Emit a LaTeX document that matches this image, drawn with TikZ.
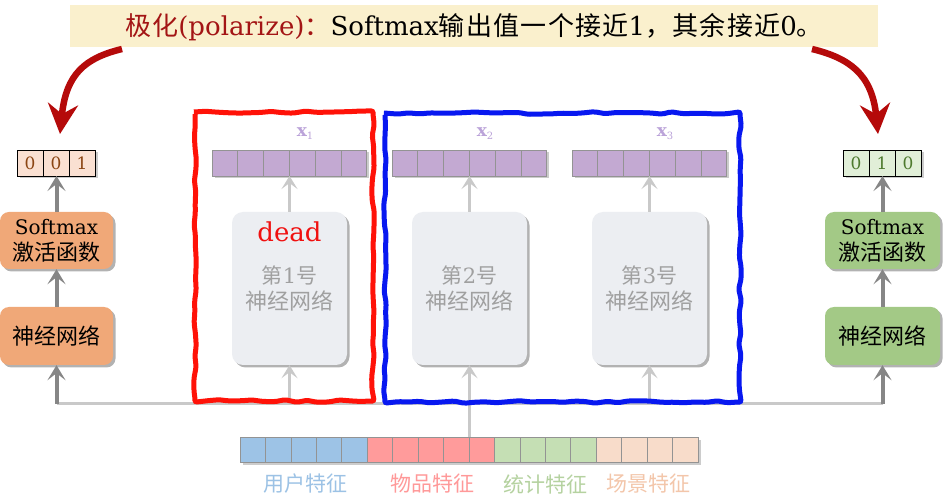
\documentclass[tikz,border=0pt]{standalone}
\usepackage{fontspec}
\setmainfont{DejaVu Serif}
\newfontfamily\cjk{Noto Sans CJK SC}
\newfontfamily\cjkw[LetterSpace=5]{Noto Sans CJK SC}
\usetikzlibrary{arrows.meta,shadows,decorations.pathmorphing}
\definecolor{bannerbg}{HTML}{FAF0CD}
\definecolor{polred}{HTML}{A31515}
\definecolor{bigred}{HTML}{B50A0A}
\definecolor{orangebox}{HTML}{F0A878}
\definecolor{greenbox}{HTML}{A3C986}
\definecolor{peachcell}{HTML}{FAE0D2}
\definecolor{peachtext}{HTML}{8B4513}
\definecolor{greencell}{HTML}{E1EFD8}
\definecolor{greentext}{HTML}{4E7A2E}
\definecolor{purplecell}{HTML}{C3A9D2}
\definecolor{xlabel}{HTML}{BBA3D9}
\definecolor{towerfill}{HTML}{ECEEF2}
\definecolor{towertext}{HTML}{A0A0A0}
\definecolor{darkarrow}{HTML}{868686}
\definecolor{lightarrow}{HTML}{C9C9C9}
\definecolor{ublue}{HTML}{9DC3E6}
\definecolor{ired}{HTML}{FF9B9B}
\definecolor{sgreen}{HTML}{C5DFB4}
\definecolor{cpeach}{HTML}{F8DCCA}
\definecolor{ubluet}{HTML}{9CC2E5}
\definecolor{iredt}{HTML}{FF9999}
\definecolor{sgreent}{HTML}{B5D2A0}
\definecolor{cpeacht}{HTML}{F3C6AA}
\definecolor{deadred}{HTML}{F01010}
\definecolor{framered}{HTML}{FF1208}
\definecolor{frameblue}{HTML}{0818F0}
\begin{document}
\pgfmathsetseed{7}
\begin{tikzpicture}[x=1pt,y=-1pt,
  shad/.style={drop shadow={shadow xshift=2.5pt,shadow yshift=-2.5pt,opacity=0.3,fill=black}},
  sidebox/.style={rounded corners=9pt, minimum width=113pt, inner sep=0pt, align=center, shad},
  tower/.style={fill=towerfill, rounded corners=11pt, minimum width=115pt, minimum height=153pt, inner sep=0pt, align=center, text=towertext, font=\fontsize{21}{26}\selectfont, shad},
  cell/.style={draw=gray!85, minimum width=25.8pt, minimum height=26pt, inner sep=0pt, outer sep=0pt, line width=0.8pt},
  outcell/.style={draw=black, minimum width=26pt, minimum height=26pt, inner sep=0pt, outer sep=0pt, line width=0.8pt, font=\fontsize{17}{17}\selectfont},
  bcell/.style={draw=gray!85, minimum width=25.45pt, minimum height=25pt, inner sep=0pt, outer sep=0pt, line width=0.8pt},
  darr/.style={draw=darkarrow, line width=4pt, -{Stealth[length=15pt,width=18pt,inset=7pt]}},
  larr/.style={draw=lightarrow, line width=3pt, -{Stealth[length=13pt,width=16pt,inset=6pt]}},
  lline/.style={draw=lightarrow, line width=3pt},
  bigarr/.style={draw=bigred, line width=6.5pt, -{Stealth[length=30pt,width=30pt,inset=10pt]}},
  wavy/.style={line width=5pt, decorate, decoration={random steps,segment length=11pt,amplitude=1.3pt}, rounded corners=2pt},
  rowshadow/.style={fill=black, opacity=0.2},
]
\useasboundingbox (0,0) rectangle (945,502);
\fill[white] (0,0) rectangle (945,502);

% banner
\node[fill=bannerbg, minimum width=808pt, minimum height=42pt, inner sep=0pt] (banner) at (474,26) {};
\node[font=\fontsize{26}{26}\selectfont] (btext) at (474,27)
  {\textcolor{polred}{{\cjkw 极化}(polarize){\cjkw ：}}Softmax{\cjkw 输出值一个接近}1{\cjkw ，其余接近}0{\cjkw 。}};

% left side
\fill[rowshadow] (19.5,152.5) rectangle (97.5,178.5);
\node[outcell, fill=peachcell, text=peachtext] (lo1) at (30,163) {0};
\node[outcell, fill=peachcell, text=peachtext] (lo2) at (56,163) {0};
\node[outcell, fill=peachcell, text=peachtext] (lo3) at (82,163) {1};
\node[sidebox, fill=orangebox, minimum height=57pt, font=\fontsize{20}{26}\selectfont] (lsm) at (56.5,240.5) {Softmax\\{\fontsize{22}{26}\selectfont\cjk 激活函数}};
\node[sidebox, fill=orangebox, minimum height=58pt, font=\fontsize{22}{26}\selectfont] (lnn) at (56.5,336) {\cjk 神经网络};

% right side
\fill[rowshadow] (845.5,152.5) rectangle (923.5,178.5);
\node[outcell, fill=greencell, text=greentext] (ro1) at (856,163) {0};
\node[outcell, fill=greencell, text=greentext] (ro2) at (882,163) {1};
\node[outcell, fill=greencell, text=greentext] (ro3) at (908,163) {0};
\node[sidebox, fill=greenbox, minimum height=57pt, minimum width=115pt, font=\fontsize{20}{26}\selectfont] (rsm) at (882.5,240.5) {Softmax\\{\fontsize{22}{26}\selectfont\cjk 激活函数}};
\node[sidebox, fill=greenbox, minimum height=58pt, minimum width=115pt, font=\fontsize{22}{26}\selectfont] (rnn) at (882.5,336) {\cjk 神经网络};

% towers
\node[tower] (t1) at (289.5,288.5) {{\cjk 第}1{\cjk 号}\\{\fontsize{22}{26}\selectfont\cjk 神经网络}};
\node[tower] (t2) at (469.5,288.5) {{\cjk 第}2{\cjk 号}\\{\fontsize{22}{26}\selectfont\cjk 神经网络}};
\node[tower] (t3) at (649.5,288.5) {{\cjk 第}3{\cjk 号}\\{\fontsize{22}{26}\selectfont\cjk 神经网络}};
\node[text=deadred, font=\fontsize{26}{26}\selectfont] (dead) at (289.5,232) {dead};

% x vectors
\foreach \v/\sx in {1/212, 2/392, 3/572}{
  \fill[rowshadow] (\sx+2.5,152.5) rectangle (\sx+157.3,178.5);
  \foreach \i in {1,...,6}{
    \node[cell, fill=purplecell] (x\v-\i) at ({\sx+12.9+25.8*(\i-1)},163) {};
  }
  \node[text=xlabel, font=\fontsize{17}{17}\selectfont\bfseries, inner sep=0pt] (xl\v) at (\sx+93,134) {x\raisebox{-3pt}{\fontsize{10}{10}\selectfont\mdseries\v}};
}

% bottom feature vector
\fill[rowshadow] (242.5,439.5) rectangle (700.6,464.5);
\foreach \i in {1,...,18}{
  \ifnum\i<6 \def\cc{ublue}\else\ifnum\i<11 \def\cc{ired}\else\ifnum\i<15 \def\cc{sgreen}\else\def\cc{cpeach}\fi\fi\fi
  \node[bcell, fill=\cc] (b-\i) at ({240+12.725+25.45*(\i-1)},449.5) {};
}
\node[text=ubluet, font=\fontsize{21}{21}\selectfont\cjk] (lu) at (305,484) {用户特征};
\node[text=iredt, font=\fontsize{21}{21}\selectfont\cjk] (li) at (432,484) {物品特征};
\node[text=sgreent, font=\fontsize{21}{21}\selectfont\cjk] (ls) at (545,484) {统计特征};
\node[text=cpeacht, font=\fontsize{21}{21}\selectfont\cjk] (lc) at (648,484) {场景特征};

% connectors
\coordinate (lcorner) at (lnn.south |- 0,404);
\coordinate (rcorner) at (rnn.south |- 0,404);
\draw[lline] (lcorner) -- (rcorner);
\draw[lline] (b-9.north east) -- (b-9.north east |- 0,404);
\draw[darr] (lcorner) -- (lnn.south);
\draw[darr] (lnn.north) -- (lsm.south);
\draw[darr] (lsm.north) -- (lsm.north |- lo2.south);
\draw[darr] (rcorner) -- (rnn.south);
\draw[darr] (rnn.north) -- (rsm.south);
\draw[darr] (rsm.north) -- (rsm.north |- ro2.south);
\foreach \t/\v in {t1/x1, t2/x2, t3/x3}{
  \draw[larr] (\t.south |- 0,404) -- (\t.south);
  \draw[larr] (\t.north) -- (\t.north |- \v-1.south);
}

% red curved arrows
\coordinate (ltip) at (60,134);
\coordinate (rtip) at (878,134);
\draw[bigarr] (122,49) .. controls (85,58) and (66,74) .. (ltip);
\draw[bigarr] (812,49) .. controls (849,58) and (872,74) .. (rtip);

% frames
\draw[wavy, draw=framered] (195,112) rectangle (373,401);
\draw[wavy, draw=frameblue] (385,113) rectangle (740,402);
\end{tikzpicture}
\end{document}
